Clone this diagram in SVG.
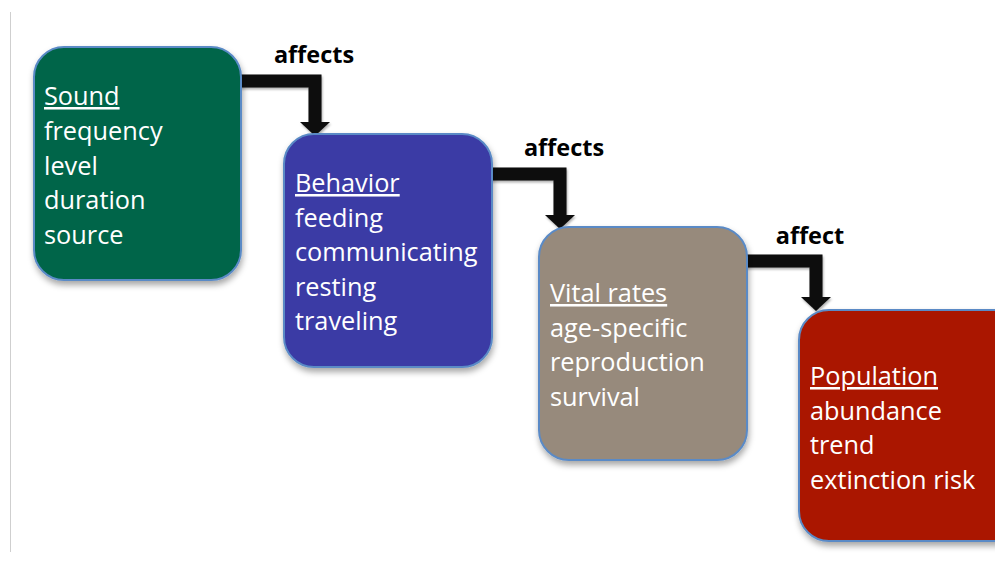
<svg xmlns="http://www.w3.org/2000/svg" width="995" height="570" viewBox="0 0 995 570">
  <defs>
    <filter id="shadow" x="-20%" y="-20%" width="140%" height="140%">
      <feDropShadow dx="1" dy="4" stdDeviation="3" flood-color="#000" flood-opacity="0.35"/>
    </filter>
    <filter id="ashadow" x="-20%" y="-20%" width="140%" height="140%">
      <feDropShadow dx="1" dy="2" stdDeviation="1.2" flood-color="#000" flood-opacity="0.3"/>
    </filter>
    <style>
      .box { stroke: #5A8AC6; stroke-width: 2; filter: url(#shadow); }
      .t { font-family: "Open Sans", "Noto Sans", sans-serif; font-size: 25.3px; fill: #FFFFFF; }
      .h { text-decoration: underline; }
      .lbl { font-family: "Open Sans", "Noto Sans", sans-serif; font-size: 23.5px; font-weight: bold; fill: #000; text-anchor: middle; }
      .conn { fill: none; stroke: #0A0A0A; stroke-width: 13; stroke-linejoin: miter; }
      .head { fill: #0A0A0A; }
    </style>
  </defs>
  <rect width="995" height="570" fill="#FFFFFF"/>
  <line x1="10.5" y1="12" x2="10.5" y2="552" stroke="#CFCFCF" stroke-width="1"/>

  <g id="connectors" filter="url(#ashadow)">
    <path class="conn" d="M240,81 H315 V123"/>
    <polygon class="head" points="300,122 330,122 315,136"/>
    <path class="conn" d="M491,174 H560 V216"/>
    <polygon class="head" points="545,215 575,215 560,229"/>
    <path class="conn" d="M746,261 H816 V298"/>
    <polygon class="head" points="801,297 831,297 816,311"/>
  </g>

  <g id="labels">
    <text class="lbl" x="314" y="63">affects</text>
    <text class="lbl" x="564" y="156">affects</text>
    <text class="lbl" x="810" y="244">affect</text>
  </g>

  <g id="sound">
    <rect class="box" x="34" y="47" width="207" height="233" rx="30" fill="#026549"/>
    <text class="t" x="44"><tspan class="h" x="44" y="105">Sound</tspan><tspan x="44" y="140">frequency</tspan><tspan x="44" y="174.5">level</tspan><tspan x="44" y="209">duration</tspan><tspan x="44" y="243.5">source</tspan></text>
  </g>

  <g id="behavior">
    <rect class="box" x="284" y="134" width="208" height="233" rx="30" fill="#3A3AA5"/>
    <text class="t"><tspan class="h" x="295" y="192">Behavior</tspan><tspan x="295" y="226.5">feeding</tspan><tspan x="295" y="261">communicating</tspan><tspan x="295" y="295.5">resting</tspan><tspan x="295" y="330">traveling</tspan></text>
  </g>

  <g id="vital-rates">
    <rect class="box" x="539" y="227" width="208" height="233" rx="30" fill="#978A7C"/>
    <text class="t"><tspan class="h" x="550" y="302">Vital rates</tspan><tspan x="550" y="336.5">age-specific</tspan><tspan x="550" y="371">reproduction</tspan><tspan x="550" y="405.5">survival</tspan></text>
  </g>

  <g id="population">
    <rect class="box" x="799" y="310" width="230" height="231" rx="30" fill="#AA1800"/>
    <text class="t"><tspan class="h" x="810" y="385">Population</tspan><tspan x="810" y="419.5">abundance</tspan><tspan x="810" y="454">trend</tspan><tspan x="810" y="488.5">extinction risk</tspan></text>
  </g>
</svg>
